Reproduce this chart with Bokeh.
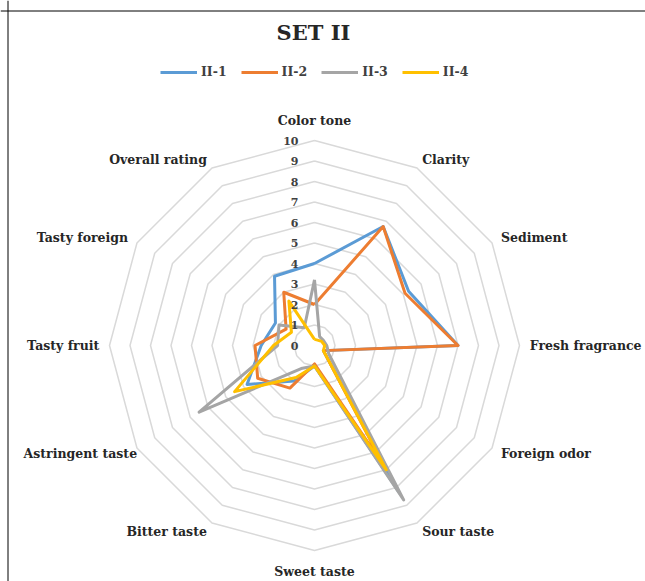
import math
from bokeh.plotting import figure
from bokeh.models import Range1d, Label, Span, Legend, LegendItem, ColumnDataSource
from bokeh.core.properties import value
from bokeh.embed import file_html
from bokeh.resources import INLINE

# ---------------- data ----------------
categories = ["Color tone", "Clarity", "Sediment", "Fresh fragrance", "Foreign odor",
              "Sour taste", "Sweet taste", "Bitter taste", "Astringent taste",
              "Tasty fruit", "Tasty foreign", "Overall rating"]
series_names = ["II-1", "II-2", "II-3", "II-4"]
ii_1 = [4.0, 6.7, 5.3, 7.0, 0.5, 8.3, 1.0, 2.0, 3.8, 2.6, 2.2, 3.9]
ii_2 = [2.0, 6.7, 5.1, 7.0, 0.5, 6.8, 0.9, 2.4, 3.2, 2.9, 1.6, 3.0]
ii_3 = [3.2, 0.5, 0.5, 0.6, 0.8, 8.7, 1.0, 1.3, 6.5, 1.8, 2.0, 1.0]
ii_4 = [0.3, 0.3, 0.4, 0.5, 0.5, 7.0, 1.0, 1.8, 4.5, 2.0, 1.3, 2.5]
tick_values = [0, 1, 2, 3, 4, 5, 6, 7, 8, 9, 10]
colors = ["#5B9BD5", "#ED7D31", "#A5A5A5", "#FFC000"]

# ---------------- geometry ----------------
W, H = 645, 581
U = 20.5            # px per unit
CX, CY = 314, 345   # px of centre
def px_to_x(px): return (px - CX) / U
def py_to_y(py): return (CY - py) / U

n = len(categories)
angles = [math.pi / 2 - 2 * math.pi * i / n for i in range(n)]
# small horizontal nudges (px) for category label placement
label_nudge = [0, 0, 0, 0, 0, 0, 0, 0, 9, 0, 0, 0]

p = figure(width=W, height=H, output_backend="svg", toolbar_location=None,
           x_range=Range1d(px_to_x(0), px_to_x(W)),
           y_range=Range1d(py_to_y(H), py_to_y(0)),
           min_border=0, outline_line_color=None)
p.axis.visible = False
p.grid.visible = False
p.background_fill_color = "white"

# grid polygons
for t in tick_values[1:]:
    xs = [t * math.cos(a) for a in angles] + [t * math.cos(angles[0])]
    ys = [t * math.sin(a) for a in angles] + [t * math.sin(angles[0])]
    p.line(xs, ys, line_color="#D9D9D9", line_width=1.5)

# series
renderers = []
for name, vals, c in zip(series_names, [ii_1, ii_2, ii_3, ii_4], colors):
    xs = [v * math.cos(a) for v, a in zip(vals, angles)] + [vals[0] * math.cos(angles[0])]
    ys = [v * math.sin(a) for v, a in zip(vals, angles)] + [vals[0] * math.sin(angles[0])]
    r = p.line(xs, ys, line_color=c, line_width=3, line_join="round")
    renderers.append(r)

FONT = "DejaVu Serif"

# tick labels
p.text(x=[-16 / U] * len(tick_values), y=tick_values, text=[str(t) for t in tick_values],
       text_align="right", text_baseline="middle", text_font=value(FONT),
       text_font_style="bold", text_font_size="11px", text_color="#404040")

# category labels
lx, ly, la = [], [], []
for cat, a, nd in zip(categories, angles, label_nudge):
    c = math.cos(a)
    if abs(c) < 0.1:
        r = 11.0
        align = "center"
    else:
        r = 10.5
        align = "left" if c > 0 else "right"
    lx.append(r * math.cos(a) + nd / U); ly.append(r * math.sin(a)); la.append(align)
src = ColumnDataSource(dict(x=lx, y=ly, t=categories, a=la))
p.text(x="x", y="y", text="t", text_align="a", source=src, text_baseline="middle",
       text_font=value(FONT), text_font_style="bold", text_font_size="12.5px",
       text_color="#262626")

# title
p.add_layout(Label(x=px_to_x(313), y=py_to_y(32), text="SET II", text_align="center",
                   text_baseline="middle", text_font=FONT, text_font_style="bold",
                   text_font_size="21px", text_color="#262626"))

# legend
legend = Legend(items=[LegendItem(label=nm, renderers=[r]) for nm, r in zip(series_names, renderers)],
                orientation="horizontal", location=(160, H - 79),
                glyph_width=37, glyph_height=14, label_standoff=4, spacing=14,
                padding=0, margin=0, border_line_color=None, background_fill_alpha=0,
                label_text_font=FONT, label_text_font_style="bold",
                label_text_font_size="12.5px", label_text_color="#404040",
                label_height=14)
p.add_layout(legend)

# frame border (top & left)
p.add_layout(Span(location=py_to_y(10.5), dimension="width", line_color="black", line_width=1))
p.add_layout(Span(location=px_to_x(7.5), dimension="height", line_color="black", line_width=1))

open("out.html", "w").write(file_html(p, INLINE))
